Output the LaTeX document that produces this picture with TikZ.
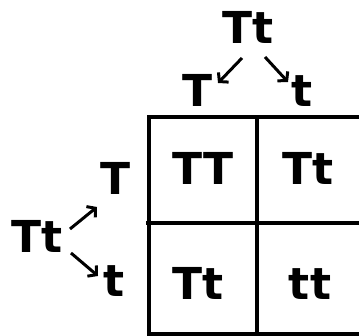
\documentclass[tikz,border=0pt]{standalone}
\usepackage{fontspec}
\setmainfont{DejaVu Sans}
\usetikzlibrary{calc,math,arrows.meta}
\tikzset{
  allele/.style={font=\bfseries\fontsize{44}{44}\selectfont, inner sep=0pt, anchor=base},
  split/.style={line width=3pt, ->, >={Straight Barb[length=6pt,width=14pt,line width=3pt]}},
  gridline/.style={line width=4pt}
}

\begin{document}
\begin{tikzpicture}[x=1pt,y=-1pt]
            \useasboundingbox (0,0) rectangle (359,336);
            \clip (0,0) rectangle (359,336);
            \tikzmath{\xl = 149; \xm = 257; \xr = 366; \yt = 117; \ym = 223; \yb = 334;}

            % parents and their gametes
            \node[allele] (pa) at (248,44) {Tt};
            \node[allele] (pa1) at (198,107) {T};
            \node[allele] (pa2) at (302,107) {t};
            \node[allele] (pb) at (37,253) {Tt};
            \node[allele] (pb1) at (116,195) {T};
            \node[allele] (pb2) at (114,297) {t};

            \coordinate (a0) at (242,58);  \coordinate (a1) at (218,83);
            \coordinate (b0) at (265,57);  \coordinate (b1) at (288,82);
            \coordinate (c0) at (70,229);  \coordinate (c1) at (97,207);
            \coordinate (d0) at (71,253);  \coordinate (d1) at (98,276);
            \draw[split] (a0)--(a1);
            \draw[split] (b0)--(b1);
            \draw[split] (c0)--(c1);
            \draw[split] (d0)--(d1);

            % the square
            \draw[gridline] (\xl,\yt) rectangle (\xr,\yb);
            \draw[gridline] (\xm,\yt)--(\xm,\yb);
            \draw[gridline] (146,\ym)--(\xr,\ym);

            \node[allele] (c11) at (203,185) {TT};
            \node[allele] (c12) at (308,185) {Tt};
            \node[allele] (c21) at (198,300) {Tt};
            \node[allele] (c22) at (310,300) {tt};
        \end{tikzpicture}
\end{document}
